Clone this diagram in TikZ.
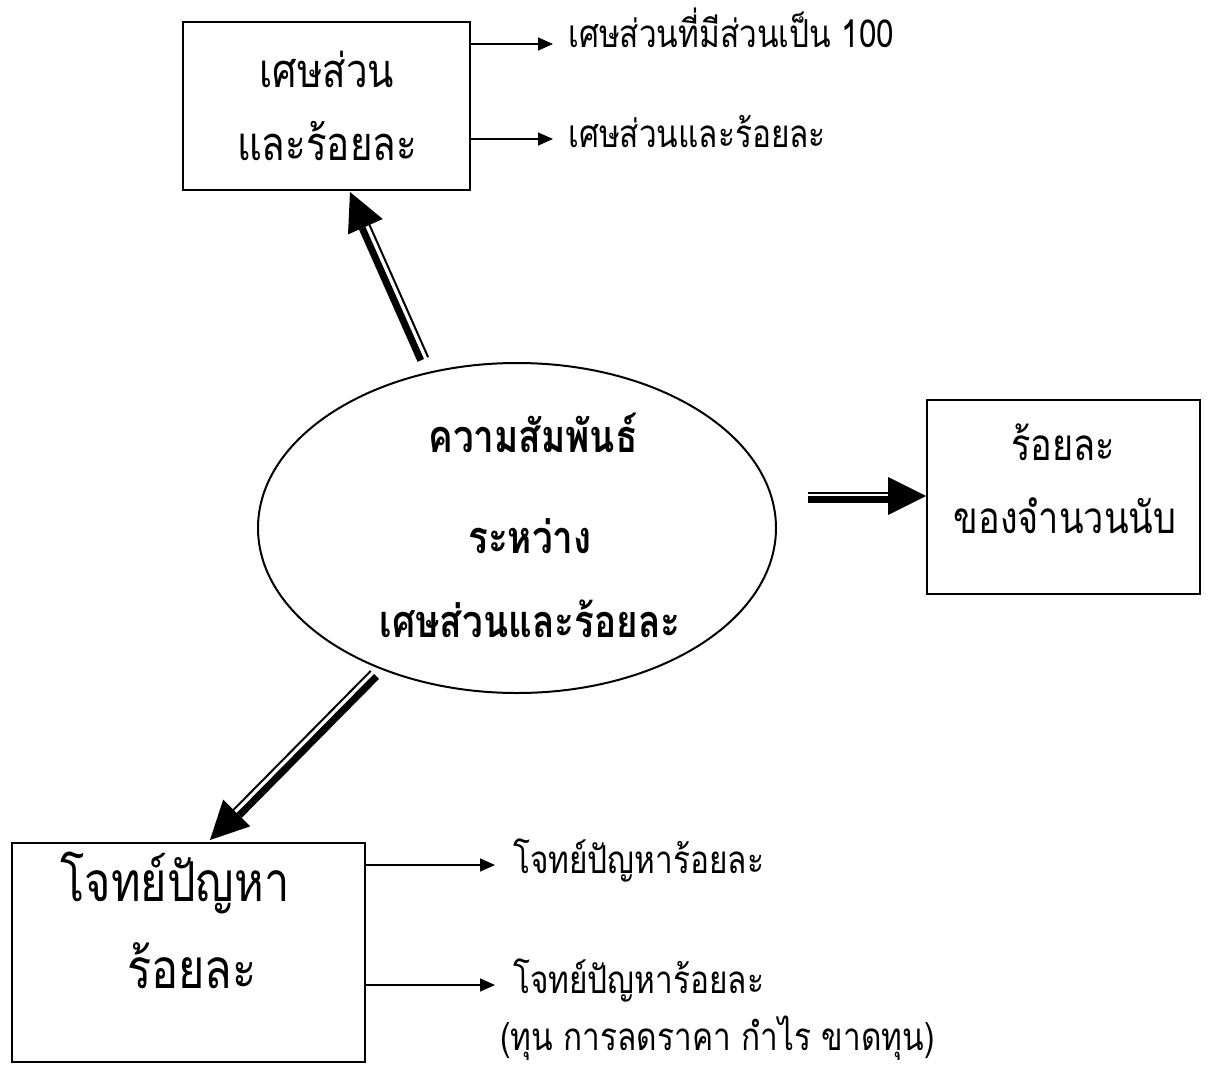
\documentclass[tikz,border=0pt]{standalone}
\usepackage{fontspec}
\setmainfont[Script=Thai,FakeStretch=0.82]{Loma}
\usetikzlibrary{calc,shapes.geometric,arrows.meta}
% #1 start, #2 tip, #3 thin-line offset, #4 thick-line offset (positive = left of travel)
\newcommand\dblarrow[4]{%
  \coordinate (hb) at ($(#2)!38pt!(#1)$);
  \draw[line width=7pt] ($(#1)!#4pt!90:(#2)$) -- ($(hb)!#4pt!-90:(#1)$);
  \draw[line width=2pt] ($(#1)!#3pt!90:(#2)$) -- ($(hb)!#3pt!-90:(#1)$);
  \fill (#2) -- ($(hb)!19pt!90:(#2)$) -- ($(hb)!19pt!-90:(#2)$) -- cycle;
}
\begin{document}
\begin{tikzpicture}[x=1pt,y=-1pt,
  boxline/.style={draw,line width=1.5pt,inner sep=0pt},
  boxtxt/.style={anchor=base,inner sep=0pt,font=\fontsize{47}{54}\selectfont},
  rtxt/.style={anchor=base,inner sep=0pt,font=\fontsize{44}{52}\selectfont},
  bigtxt/.style={anchor=base,inner sep=0pt,font=\fontsize{55}{62}\selectfont},
  midtxt/.style={anchor=base,inner sep=0pt,font=\bfseries\fontsize{45}{52}\selectfont},
  lab/.style={anchor=base west,inner sep=0pt,font=\fontsize{38.5}{44}\selectfont},
  thinarr/.style={line width=1.5pt,-{Triangle[length=15pt,width=13pt]}}]
\path[use as bounding box] (0,0) rectangle (1224,1065);
% boxes
\node[boxline,minimum width=287pt,minimum height=168pt] (b1) at (326.5,106) {};
\node[boxline,minimum width=273pt,minimum height=194pt] (b2) at (1063.5,497) {};
\node[boxline,minimum width=353pt,minimum height=219pt] (b3) at (188.5,952.5) {};
\node[ellipse,draw,line width=2pt,inner sep=0pt,minimum width=518pt,minimum height=330pt] (el) at (517,528) {};
% texts
\node[boxtxt] (t1a) at (327,88) {เศษส่วน};
\node[boxtxt] (t1b) at (327,160) {และร้อยละ};
\node[midtxt] (m1) at (533,452) {ความสัมพันธ์};
\node[midtxt] (m2) at (530,553) {ระหว่าง};
\node[midtxt] (m3) at (530,637) {เศษส่วนและร้อยละ};
\node[rtxt] (t2a) at (1063,460) {ร้อยละ};
\node[rtxt] (t2b) at (1065,533) {ของจำนวนนับ};
\node[bigtxt] (t3a) at (175,901) {โจทย์ปัญหา};
\node[bigtxt] (t3b) at (192,988) {ร้อยละ};
% labels
\node[lab] (l1) at (568,48) {เศษส่วนที่มีส่วนเป็น 100};
\node[lab] (l2) at (568,147) {เศษส่วนและร้อยละ};
\node[lab] (l3) at (513,873) {โจทย์ปัญหาร้อยละ};
\node[lab] (l4) at (513,993) {โจทย์ปัญหาร้อยละ};
\node[lab] (l5) at (500,1050) {(ทุน การลดราคา กำไร ขาดทุน)};
% thin arrows
\coordinate (e1) at (553,44);
\coordinate (e2) at (553,139);
\coordinate (e3) at (495,865);
\coordinate (e4) at (495,985);
\draw[thinarr] (b1.east |- e1) -- (e1);
\draw[thinarr] (b1.east |- e2) -- (e2);
\draw[thinarr] (b3.east |- e3) -- (e3);
\draw[thinarr] (b3.east |- e4) -- (e4);
% double arrows
\coordinate (s1) at (424,359);
\coordinate (p1) at (350,192);
\coordinate (s2) at (808,496);
\coordinate (p2) at (926,496);
\coordinate (s3) at (374,674);
\coordinate (p3) at (210,840);
\dblarrow{s1}{p1}{-4.5}{3.5}
\dblarrow{s2}{p2}{3}{-3.5}
\dblarrow{s3}{p3}{-4.5}{3.5}
\end{tikzpicture}
\end{document}
